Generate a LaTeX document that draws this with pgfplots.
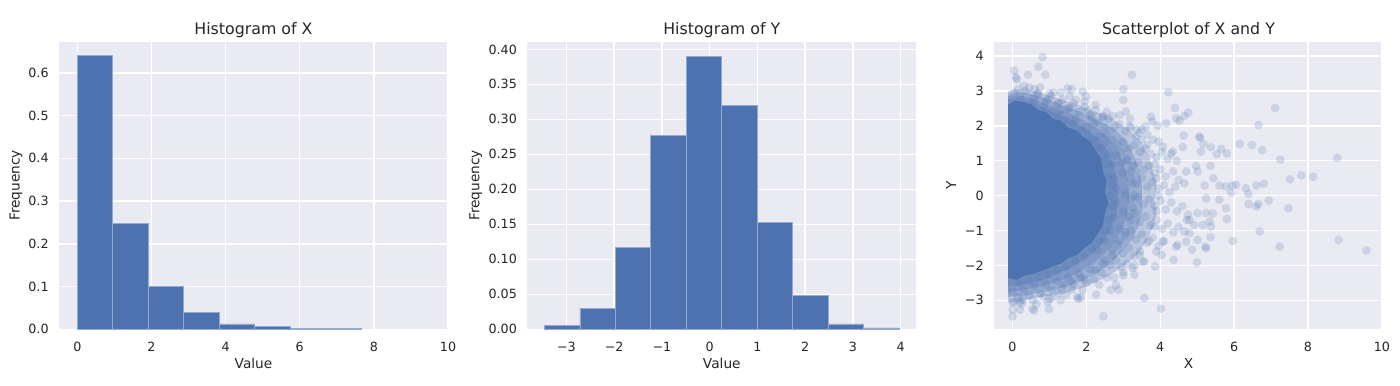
\documentclass[border=0pt]{standalone}
\usepackage{fontspec}
\setmainfont{DejaVu Sans}
\usepackage{pgfplots}
\pgfplotsset{compat=1.18}
\definecolor{bg}{HTML}{EAEAF2}
\definecolor{sb}{HTML}{4C72B0}
\definecolor{tx}{HTML}{262626}
\pgfplotsset{
 sbstyle/.style={
  scale only axis, width=194.5pt, height=143.8pt,
  axis line style={draw=none},
  axis background/.style={fill=bg},
  grid=major, grid style={white, line width=0.7pt},
  major tick length=0pt,
  tick style={draw=none},
  tick label style={font=\fontsize{6.35}{7}\selectfont, text=tx},
  xticklabel style={anchor=base, yshift=-11pt, inner sep=0pt},
  yticklabel style={anchor=east, inner sep=0pt, xshift=-5pt},
  every axis title shift=0pt,
  every axis title/.style={at={(axis description cs:0.5,1)}, anchor=base, yshift=3.65pt, font=\fontsize{7.9}{9}\selectfont, text=tx},
  every axis x label/.style={at={(axis description cs:0.5,0)}, anchor=base, yshift=-19.75pt, font=\fontsize{6.85}{8}\selectfont, text=tx},
  every axis y label/.style={at={(axis description cs:-0.1,0.5)}, anchor=base, rotate=90, font=\fontsize{6.85}{8}\selectfont, text=tx},
 },
 bars/.style={ybar interval, fill=sb, draw=sb!60!white, line width=0.45pt},
 dots/.style={only marks, mark=*, mark size=2.2pt, mark options={draw opacity=0, fill=sb, fill opacity=0.2}},
 layer/.style={fill=sb, fill opacity=0.3, draw=none},
}
\begin{document}
\begin{tikzpicture}
\path[use as bounding box] (0,0) rectangle (700pt,192.5pt);
% ---------- Histogram of X
\begin{axis}[sbstyle, at={(29.5pt,27.85pt)}, anchor=south west,
  xmin=-0.495, xmax=10.0, ymin=0, ymax=0.673,
  xtick={0,2,4,6,8,10}, xticklabels={0,2,4,6,8,10},
  ytick={0,0.1,0.2,0.3,0.4,0.5,0.6}, yticklabels={0.0,0.1,0.2,0.3,0.4,0.5,0.6},
  title={Histogram of X}, xlabel={Value}, ylabel={Frequency},
  ylabel style={at={(axis description cs:-0.1015,0.5)}}]
\addplot[bars] coordinates {
(0.000,0.6407) (0.957,0.2480) (1.914,0.0994) (2.871,0.0399) (3.828,0.0125)
(4.785,0.0063) (5.742,0.0030) (6.699,0.0027) (7.656,0.0027)};
\end{axis}
% ---------- Histogram of Y
\begin{axis}[sbstyle, at={(263.65pt,27.85pt)}, anchor=south west,
  xmin=-3.82, xmax=4.33, ymin=0, ymax=0.411,
  xtick={-3,-2,-1,0,1,2,3,4}, xticklabels={−3,−2,−1,0,1,2,3,4},
  ytick={0,0.05,0.1,0.15,0.2,0.25,0.3,0.35,0.4}, yticklabels={0.00,0.05,0.10,0.15,0.20,0.25,0.30,0.35,0.40},
  title={Histogram of Y}, xlabel={Value}, ylabel={Frequency},
  ylabel style={at={(axis description cs:-0.123,0.5)}}]
\addplot[bars] coordinates {
(-3.460,0.0057) (-2.717,0.0300) (-1.974,0.1170) (-1.231,0.2770) (-0.488,0.3900)
(0.255,0.3205) (0.998,0.1530) (1.741,0.0490) (2.484,0.0076) (3.227,0.0019) (3.970,0.0019)};
\end{axis}
% ---------- Scatterplot
\begin{axis}[sbstyle, at={(497pt,27.85pt)}, anchor=south west,
  xmin=-0.5, xmax=10.03, ymin=-3.83, ymax=4.41,
  xtick={0,2,4,6,8,10}, xticklabels={0,2,4,6,8,10},
  ytick={-3,-2,-1,0,1,2,3,4}, yticklabels={−3,−2,−1,0,1,2,3,4},
  title={Scatterplot of X and Y}, xlabel={X}, ylabel={Y},
  ylabel style={at={(axis description cs:-0.0976,0.5)}}]
% density layers (dense cloud of overlapping translucent points)
\addplot[layer] coordinates {
(-0.12,-3.05) (-0.12,3.0) (0.3,3.05) (0.6,3.0) (0.9,2.9) (1.2,2.8) (1.5,2.7) (1.8,2.6)
(2.1,2.45) (2.4,2.35) (2.7,2.2) (3.0,2.0) (3.25,1.8) (3.5,1.5) (3.7,1.1) (3.8,0.7)
(3.9,0.3) (3.85,-0.1) (3.9,-0.5) (3.8,-0.9) (3.65,-1.25) (3.45,-1.6) (3.2,-1.85) (2.9,-2.1)
(2.6,-2.3) (2.3,-2.45) (2.0,-2.6) (1.7,-2.7) (1.4,-2.8) (1.1,-2.85) (0.8,-2.9) (0.5,-2.95) (0.2,-3.05) (-0.12,-3.05)};
\addplot[layer] coordinates {
(-0.12,-2.9) (-0.12,2.92) (0.3,2.95) (0.6,2.88) (0.9,2.78) (1.2,2.65) (1.5,2.55) (1.8,2.42)
(2.1,2.28) (2.4,2.12) (2.7,1.95) (2.95,1.72) (3.15,1.45) (3.3,1.1) (3.45,0.7) (3.5,0.3)
(3.5,-0.1) (3.5,-0.5) (3.4,-0.9) (3.25,-1.25) (3.0,-1.55) (2.75,-1.85) (2.45,-2.1) (2.15,-2.3)
(1.85,-2.45) (1.5,-2.6) (1.2,-2.68) (0.9,-2.75) (0.6,-2.8) (0.3,-2.88) (-0.12,-2.9)};
\addplot[layer] coordinates {
(-0.12,-2.75) (-0.12,2.85) (0.3,2.85) (0.6,2.75) (0.9,2.62) (1.2,2.5) (1.5,2.38) (1.8,2.22)
(2.1,2.05) (2.4,1.85) (2.65,1.6) (2.85,1.3) (3.0,0.95) (3.1,0.6) (3.15,0.2) (3.15,-0.2)
(3.1,-0.6) (2.95,-0.95) (2.8,-1.3) (2.55,-1.6) (2.3,-1.85) (2.0,-2.05) (1.7,-2.25) (1.4,-2.4)
(1.1,-2.5) (0.8,-2.6) (0.5,-2.65) (0.2,-2.72) (-0.12,-2.75)};
\addplot[layer] coordinates {
(-0.12,-2.6) (-0.12,2.78) (0.3,2.78) (0.6,2.65) (0.9,2.5) (1.2,2.35) (1.5,2.2) (1.8,2.02)
(2.1,1.82) (2.35,1.6) (2.55,1.3) (2.7,1.0) (2.8,0.6) (2.85,0.2) (2.85,-0.2) (2.8,-0.6)
(2.65,-1.0) (2.45,-1.35) (2.2,-1.6) (1.9,-1.85) (1.6,-2.05) (1.3,-2.2) (1.0,-2.35) (0.7,-2.45)
(0.4,-2.52) (0.1,-2.6) (-0.12,-2.6)};
% solid core
\addplot[fill=sb, draw=none] coordinates {
(-0.12,-2.35) (-0.12,2.6) (0.05,2.72) (0.3,2.68) (0.5,2.62) (0.7,2.45) (0.9,2.4) (1.1,2.2)
(1.3,2.15) (1.5,1.95) (1.7,1.88) (1.9,1.7) (2.1,1.55) (2.25,1.3) (2.4,1.05) (2.45,0.7)
(2.55,0.4) (2.5,0.1) (2.6,-0.2) (2.5,-0.5) (2.45,-0.85) (2.3,-1.1) (2.15,-1.35) (1.95,-1.5)
(1.75,-1.7) (1.5,-1.8) (1.3,-1.95) (1.05,-2.05) (0.8,-2.15) (0.55,-2.25) (0.3,-2.3) (0.1,-2.42) (-0.12,-2.35)};
% individual points
\addplot[dots] coordinates {
(0.81,3.97) (0.70,3.69) (0.89,3.46) (0.42,3.46) (0.05,3.58) (0.09,3.39) (0.12,3.33) (3.23,3.46)
(0.45,3.10) (0.14,3.05) (1.49,3.07) (1.61,3.05) (1.90,2.98) (1.99,2.84) (3.00,3.05) (3.00,2.74)
(4.22,2.96) (0.68,2.93) (1.01,2.93) (1.72,2.74) (2.04,2.45) (3.07,2.41) (3.18,2.21) (4.40,2.51)
(4.65,2.28) (4.76,2.38) (4.52,2.15) (7.11,2.51) (6.66,2.02) (4.16,2.07) (3.75,2.26) (3.78,2.12)
(3.60,1.98) (3.43,1.80) (3.16,2.00) (2.44,2.28) (2.71,2.28) (4.63,1.72) (5.05,1.69) (5.08,1.66)
(5.17,1.48) (5.37,1.39) (5.65,1.34) (5.53,1.19) (5.80,1.21) (6.15,1.48) (6.48,1.45) (6.76,1.30)
(7.25,1.03) (8.79,1.08) (5.10,1.26) (4.61,1.39) (4.34,1.26) (4.07,1.40) (4.70,0.69) (5.01,0.69)
(4.97,0.85) (5.36,0.85) (5.20,0.29) (5.44,0.50) (5.60,0.29) (5.78,0.26) (5.95,0.29) (6.05,0.31)
(5.92,0.09) (6.32,0.21) (6.39,0.05) (6.60,0.29) (6.80,0.34) (7.51,0.47) (7.82,0.58) (8.14,0.54)
(6.94,-0.14) (6.39,-0.24) (6.60,-0.31) (6.66,-0.24) (7.47,-0.36) (5.24,-0.08) (5.42,-0.51) (5.60,-0.12)
(5.78,-0.36) (5.80,-0.67) (5.33,-0.74) (5.37,-0.89) (5.01,-0.50) (5.24,-0.50) (5.15,-0.84) (4.79,-0.70)
(4.92,-0.84) (4.72,-0.70) (4.79,-1.08) (4.70,-1.32) (4.65,-1.03) (4.47,-1.41) (4.07,-1.32) (4.43,-1.46)
(5.01,-1.27) (5.36,-1.19) (5.24,-1.51) (5.22,-1.46) (4.86,-1.55) (4.99,-1.92) (5.96,-1.30) (6.69,-1.03)
(7.23,-1.46) (8.83,-1.27) (9.58,-1.57) (4.36,-1.84) (4.04,-1.70) (3.89,-1.60) (3.86,-2.03) (3.57,-1.89)
(3.52,-1.89) (3.30,-2.27) (3.25,-2.08) (3.00,-2.29) (2.87,-2.70) (2.66,-2.70) (2.80,-2.56) (2.26,-2.84)
(3.57,-2.93) (4.02,-3.24) (2.46,-3.46) (1.78,-2.96) (1.85,-2.92) (0.99,-3.25) (0.59,-3.29) (0.54,-3.25)
(0.20,-3.27) (0.00,-3.27) (0.00,-3.46) (0.05,-3.06) (0.27,-2.99) (1.08,-2.92) (0.84,-2.89) (4.43,2.21)
(3.93,2.00)
(2.45,2.25) (2.6,2.2) (2.75,1.95) (2.9,2.05) (3.05,1.85) (3.2,1.95) (3.35,1.7) (3.5,1.9)
(3.65,1.75) (3.8,1.6) (3.95,1.55) (2.55,1.75) (2.7,1.6) (2.85,1.45) (3.0,1.55) (3.15,1.35)
(3.3,1.45) (3.45,1.25) (3.6,1.35) (3.75,1.2) (3.9,1.1) (4.05,1.25) (4.2,1.05) (4.3,1.2)
(4.45,1.0) (2.8,1.15) (2.95,0.95) (3.1,1.05) (3.25,0.85) (3.4,0.95) (3.55,0.75) (3.7,0.85)
(3.85,0.65) (4.0,0.75) (4.15,0.55) (4.35,0.7) (4.5,0.45) (4.65,0.35) (4.4,0.25) (3.0,0.65)
(3.2,0.5) (3.35,0.35) (3.5,0.5) (3.65,0.25) (3.8,0.4) (3.95,0.2) (4.1,0.3) (4.25,0.1)
(3.05,0.05) (3.2,-0.1) (3.4,-0.05) (3.55,-0.25) (3.7,-0.1) (3.85,-0.3) (4.0,-0.15) (4.15,-0.4)
(4.3,-0.2) (4.45,-0.45) (4.6,-0.3) (4.75,-0.55) (3.0,-0.45) (3.15,-0.6) (3.3,-0.5) (3.45,-0.75)
(3.6,-0.6) (3.75,-0.85) (3.9,-0.7) (4.05,-0.95) (4.2,-0.8) (4.35,-1.05) (4.5,-0.9) (2.9,-0.95)
(3.05,-1.15) (3.2,-1.0) (3.35,-1.25) (3.5,-1.1) (3.65,-1.35) (3.8,-1.2) (3.95,-1.45) (4.1,-1.3)
(2.7,-1.55) (2.85,-1.4) (3.0,-1.65) (3.15,-1.5) (3.3,-1.75) (3.45,-1.6) (2.5,-1.85) (2.65,-2.0)
(2.8,-1.85) (2.95,-2.05) (3.1,-1.95) (2.4,-2.2) (2.55,-2.35) (2.2,-2.4) (2.35,-2.55) (2.0,-2.5)
(0.05,2.95) (0.2,2.85) (0.35,3.0) (0.55,2.8) (0.7,2.9) (0.9,2.7) (1.05,2.85) (1.2,2.6)
(1.35,2.75) (1.5,2.5) (1.65,2.65) (1.8,2.4) (1.95,2.55) (2.1,2.3) (2.25,2.45) (1.1,2.95)
(0.6,3.05) (1.3,2.45) (1.7,2.2) (2.0,1.95) (2.2,2.05) (2.35,1.7) (2.5,1.5) (2.6,1.2)
(2.7,0.9) (2.75,0.5) (2.8,0.2) (2.8,-0.2) (2.75,-0.6) (2.65,-1.0) (2.5,-1.3) (2.3,-1.55)
(0.0,-2.75) (0.15,-2.9) (0.3,-2.7) (0.45,-2.85) (0.6,-2.6) (0.75,-2.8) (0.9,-2.55) (1.05,-2.7)
(1.2,-2.45) (1.35,-2.65) (1.5,-2.35) (1.65,-2.55) (1.8,-2.25) (1.95,-2.4) (2.1,-2.1) (0.2,-3.05)
(0.55,-3.0) (1.0,-2.95) (1.45,-2.85) (0.0,-3.05) (1.25,-2.8) (1.6,-2.7) (1.75,-2.9) (1.9,-2.7)
(2.3,1.4) (2.45,1.1) (2.55,0.9) (2.6,0.55) (2.7,0.3) (2.65,0.0) (2.7,-0.3) (2.6,-0.7)
(2.5,-1.0) (2.35,-1.3) (2.15,-1.55) (1.95,-1.75) (1.7,-1.9) (1.45,-2.05) (1.2,-2.15) (0.95,-2.25)
(0.7,-2.35) (0.45,-2.45) (0.2,-2.5) (0.6,2.7) (0.85,2.55) (1.05,2.4) (1.25,2.3) (1.45,2.15)
(1.65,2.05) (1.85,1.9) (2.05,1.75) (2.2,1.6) (2.4,1.35)
(2.95,1.25) (3.1,1.0) (3.2,0.7) (3.25,0.35) (3.3,0.0) (3.25,-0.35) (3.2,-0.7) (3.05,-1.05)
(2.9,-1.3) (2.7,-1.7) (2.45,-1.95) (2.25,-2.15) (1.85,-2.35) (1.6,-2.45) (1.4,-2.55) (2.5,1.95)
(2.3,2.1) (2.15,2.25) (1.55,2.5) (1.25,2.65) (0.95,2.75)
(3.85,0.9) (3.9,0.5) (3.95,0.0) (3.9,-0.45) (3.85,-0.9) (3.7,-1.3) (3.45,-1.7) (3.3,-2.0)
(3.0,-2.2) (2.75,-2.35) (3.35,1.9) (3.5,1.6) (3.65,1.45) (2.9,2.3) (2.55,2.4) (2.25,2.6)
(1.95,2.7) (1.55,2.85) (1.3,2.95) (0.3,3.15) (0.75,3.1) (0.25,-3.1) (0.65,-3.1) (0.95,-3.05) (1.3,-3.0)};
\end{axis}
\end{tikzpicture}
\end{document}
